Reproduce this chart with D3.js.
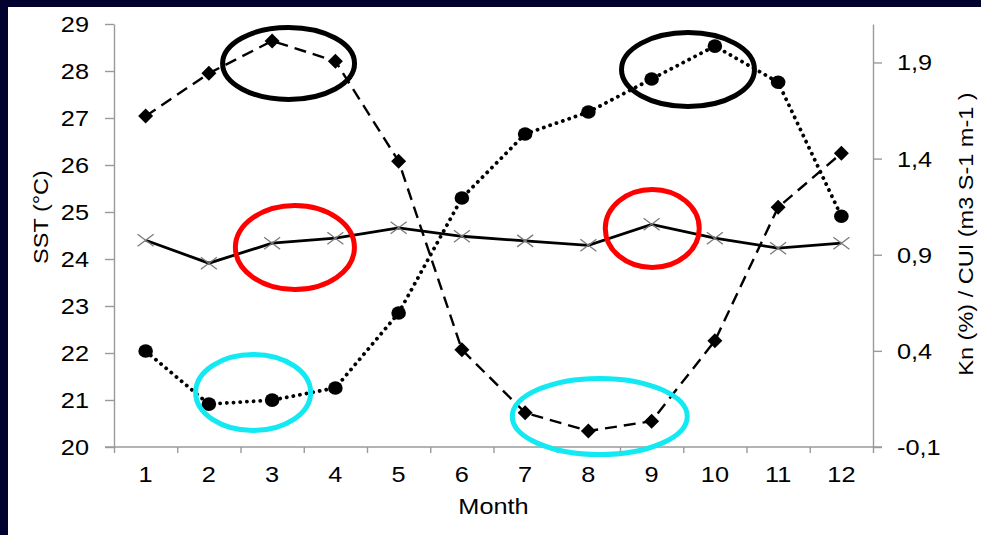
<!DOCTYPE html>
<html>
<head>
<meta charset="utf-8">
<script src="https://cdn.jsdelivr.net/npm/d3@7"></script>
<style>
  html, body { margin: 0; padding: 0; background: #02022e; }
  svg { display: block; }
  text { font-family: "Liberation Sans", Arial, sans-serif; fill: #000; }
</style>
</head>
<body>
<svg id="chart" width="981" height="535"></svg>
<script>
// ---------------- data ----------------
const months = [1, 2, 3, 4, 5, 6, 7, 8, 9, 10, 11, 12];
const sst = [27.04, 27.95, 28.64, 28.21, 26.08, 22.07, 20.73, 20.34, 20.55, 22.26, 25.10, 26.25];   // left axis, diamonds
const kn  = [0.975, 0.856, 0.960, 0.986, 1.040, 0.996, 0.972, 0.949, 1.058, 0.986, 0.934, 0.960]; // right axis, crosses
const cui = [0.399, 0.123, 0.144, 0.207, 0.597, 1.195, 1.528, 1.642, 1.814, 1.985, 1.797, 1.100]; // right axis, circles
const leftTicks = [20, 21, 22, 23, 24, 25, 26, 27, 28, 29];
const rightTicks = [-0.1, 0.4, 0.9, 1.4, 1.9];
const rightTickLabels = ["-0,1", "0,4", "0,9", "1,4", "1,9"];
const xTitle = "Month";
const leftTitle = "SST (°C)";
const rightTitle = "Kn (%) / CUI (m3 S-1 m-1 )";
// annotation ellipses: centre (month, SST value), radii (months, SST units)
const annoMonth = [3.26, 9.575, 3.36, 9.01, 2.70, 8.18];
const annoValue = [28.16, 28.03, 24.245, 24.65, 21.16, 20.65];
const annoRxM   = [1.043, 1.051, 0.941, 0.743, 0.909, 1.383];
const annoRyV   = [0.766, 0.787, 0.894, 0.830, 0.809, 0.809];
const annoColor = ["#000000", "#000000", "#ff0000", "#ff0000", "#12e9f2", "#12e9f2"];

// ---------------- layout ----------------
const W = 981, H = 535;
const plot = { left: 114, right: 873, top: 24, bottom: 447 };
const SX = 1.15; // horizontal stretch of the text in the reference
const FS = 22;

const svg = d3.select("#chart");
svg.append("rect").attr("x", 0).attr("y", 0).attr("width", W).attr("height", H).attr("fill", "#02022e");
svg.append("rect").attr("x", 8).attr("y", 7).attr("width", W - 8).attr("height", H - 7).attr("fill", "#ffffff");

const x = d3.scaleLinear().domain([0.5, 12.5]).range([plot.left, plot.right]);
const yL = d3.scaleLinear().domain([20, 29]).range([plot.bottom, plot.top]);
const yR = d3.scaleLinear().domain([-0.1, 2.1]).range([plot.bottom, plot.top]);

const axisColor = "#9a9a9a";

// x axis (ticks on category boundaries)
const xBoundaries = d3.range(0.5, 13, 1);
const gx = svg.append("g").attr("transform", `translate(0,${plot.bottom})`)
  .call(d3.axisBottom(x).tickValues(xBoundaries).tickSize(6).tickSizeOuter(0).tickFormat(""));
gx.select(".domain").remove();
gx.append("line").attr("x1", plot.left - 9).attr("x2", plot.right + 9).attr("y1", 0).attr("y2", 0);
gx.selectAll("line").attr("stroke", axisColor).attr("stroke-width", 1.4);

svg.append("g").selectAll("text").data(months).join("text")
  .attr("transform", d => `translate(${x(d)},${plot.bottom + 35}) scale(${SX},1)`)
  .attr("text-anchor", "middle").attr("font-size", FS).text(d => d);

// left axis
const gl = svg.append("g").attr("transform", `translate(${plot.left},0)`)
  .call(d3.axisLeft(yL).tickValues(leftTicks).tickSize(9).tickSizeOuter(0).tickFormat(""));
gl.select(".domain").attr("stroke", axisColor).attr("stroke-width", 1.4);
gl.selectAll(".tick line").attr("stroke", axisColor).attr("stroke-width", 1.4);
svg.append("g").selectAll("text").data(leftTicks).join("text")
  .attr("transform", d => `translate(${plot.left - 25},${yL(d)}) scale(${SX},1)`)
  .attr("text-anchor", "end").attr("dy", "0.36em").attr("font-size", FS).text(d => d);

// right axis
const gr = svg.append("g").attr("transform", `translate(${plot.right},0)`)
  .call(d3.axisRight(yR).tickValues(rightTicks).tickSize(9).tickSizeOuter(0).tickFormat(""));
gr.select(".domain").attr("stroke", axisColor).attr("stroke-width", 1.4);
gr.selectAll(".tick line").attr("stroke", axisColor).attr("stroke-width", 1.4);
svg.append("g").selectAll("text").data(rightTicks).join("text")
  .attr("transform", d => `translate(${plot.right + 24},${yR(d)}) scale(${SX},1)`)
  .attr("text-anchor", "start").attr("dy", "0.36em").attr("font-size", FS)
  .text((d, i) => rightTickLabels[i]);

// titles
svg.append("text").attr("transform", `translate(${(plot.left + plot.right) / 2},514) scale(${SX},1)`)
  .attr("text-anchor", "middle").attr("font-size", FS).text(xTitle);
svg.append("text").attr("transform", `translate(47.5,217) rotate(-90) scale(1.12,1)`)
  .attr("text-anchor", "middle").attr("font-size", 21).text(leftTitle);
svg.append("text").attr("transform", `translate(972.5,234) rotate(-90) scale(1.12,1)`)
  .attr("text-anchor", "middle").attr("font-size", 21).text(rightTitle);

// ---------------- series ----------------
const sstPts = months.map((m, i) => [x(m), yL(sst[i])]);
const knPts = months.map((m, i) => [x(m), yR(kn[i])]);
const cuiPts = months.map((m, i) => [x(m), yR(cui[i])]);
const line = d3.line();

svg.append("path").attr("d", line(cuiPts)).attr("fill", "none").attr("stroke", "#000")
  .attr("stroke-width", 3.8).attr("stroke-linecap", "round").attr("stroke-dasharray", "0.1,6.6");
svg.append("path").attr("d", line(sstPts)).attr("fill", "none").attr("stroke", "#000")
  .attr("stroke-width", 2.4).attr("stroke-dasharray", "12,7");
svg.append("path").attr("d", line(knPts)).attr("fill", "none").attr("stroke", "#000")
  .attr("stroke-width", 2.8);

// markers
svg.append("g").selectAll("path").data(sstPts).join("path")
  .attr("d", d => `M${d[0]},${d[1] - 7.5}L${d[0] + 7.5},${d[1]}L${d[0]},${d[1] + 7.5}L${d[0] - 7.5},${d[1]}Z`)
  .attr("fill", "#000");
svg.append("g").selectAll("ellipse").data(cuiPts).join("ellipse")
  .attr("cx", d => d[0]).attr("cy", d => d[1]).attr("rx", 7.3).attr("ry", 6.8).attr("fill", "#000");
svg.append("g").selectAll("path").data(knPts).join("path")
  .attr("d", d => `M${d[0] - 8},${d[1] - 6}L${d[0] + 8},${d[1] + 6}M${d[0] - 8},${d[1] + 6}L${d[0] + 8},${d[1] - 6}`)
  .attr("stroke", "#7a7a7a").attr("stroke-width", 1.3).attr("fill", "none");

// annotation ellipses
const pxPerMonth = x(2) - x(1);
const pxPerUnit = yL(20) - yL(21);
svg.append("g").selectAll("ellipse").data(annoMonth).join("ellipse")
  .attr("cx", (d) => x(d)).attr("cy", (d, i) => yL(annoValue[i]))
  .attr("rx", (d, i) => annoRxM[i] * pxPerMonth).attr("ry", (d, i) => annoRyV[i] * pxPerUnit)
  .attr("fill", "none").attr("stroke", (d, i) => annoColor[i]).attr("stroke-width", 5);
</script>
</body>
</html>
